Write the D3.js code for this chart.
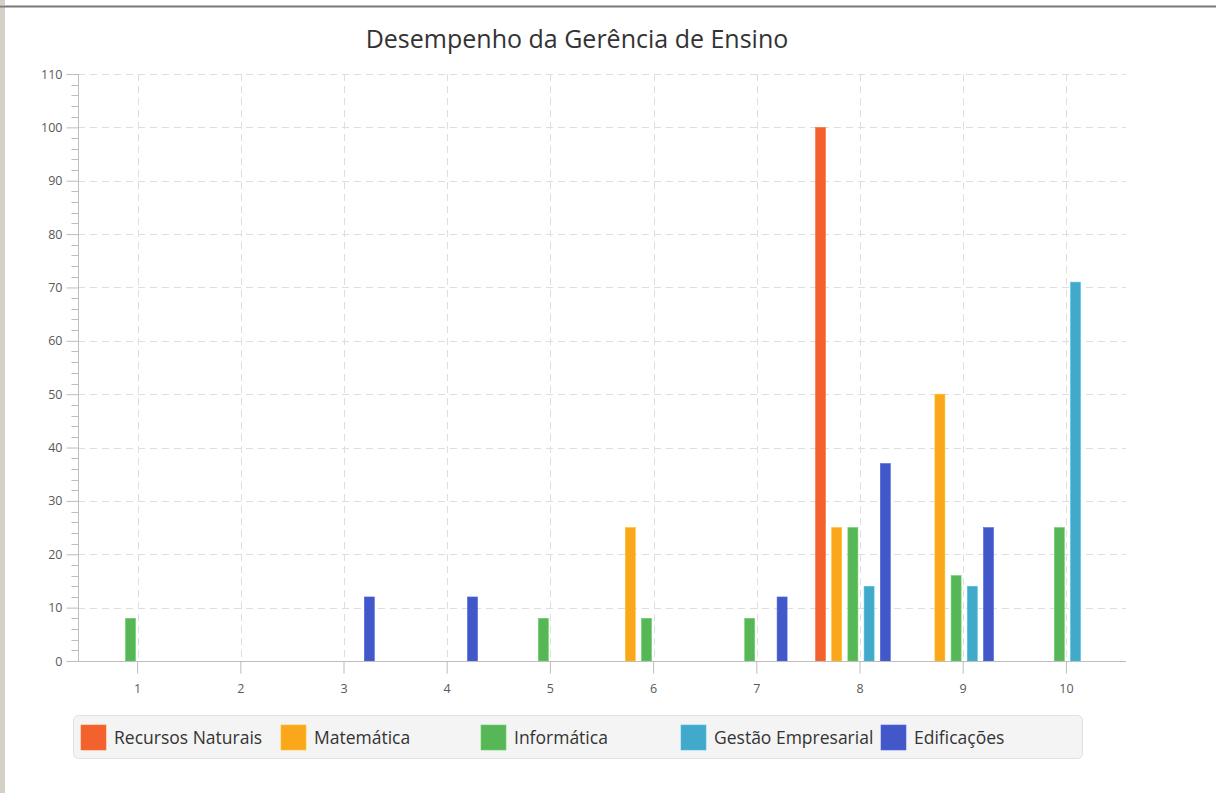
<!DOCTYPE html>
<html>
<head>
<meta charset="utf-8">
<script src="https://cdn.jsdelivr.net/npm/d3@7"></script>
<style>
  html, body { margin: 0; padding: 0; background: #fff; }
  svg { display: block; }
  text { font-family: "Open Sans", "Noto Sans", sans-serif; }
</style>
</head>
<body>
<svg id="chart" width="1216" height="793"></svg>
<script>
// chart data
const title = 'Desempenho da Gerência de Ensino';
const categories = ['1', '2', '3', '4', '5', '6', '7', '8', '9', '10'];
const seriesNames = ['Recursos Naturais', 'Matemática', 'Informática', 'Gestão Empresarial', 'Edificações'];
const seriesColors = ['#f3622d', '#fba71b', '#57b757', '#41a9c9', '#4258c9'];

// values per category (null = no bar)
const recursosNaturais = [null, null, null, null, null, null, null, 100, null, null];
const matematica = [null, null, null, null, null, 25, null, 25, 50, null];
const informatica = [8, null, null, null, 8, 8, 8, 25, 16, 25];
const gestaoEmpresarial = [null, null, null, null, null, null, null, 14, 14, 71];
const edificacoes = [null, null, 12, 12, null, null, 12, 37, 25, null];
const seriesValues = [recursosNaturais, matematica, informatica, gestaoEmpresarial, edificacoes];

const yTicks = [0, 10, 20, 30, 40, 50, 60, 70, 80, 90, 100, 110];

const svg = d3.select('#chart');

// window frame
svg.append('rect').attr('x', 0).attr('y', 0).attr('width', 5).attr('height', 793).attr('fill', '#d4d0c8');
svg.append('rect').attr('x', 0).attr('y', 5).attr('width', 1216).attr('height', 1).attr('fill', '#b8b8b8');
svg.append('rect').attr('x', 0).attr('y', 6).attr('width', 1216).attr('height', 1.5).attr('fill', '#7a7a7a');

// plot area
const axisLeft = 78, axisRight = 1126;
const plotTop = 74, plotBottom = 661;

const x = d3.scaleBand().domain(categories).range([86, 1118]).paddingInner(0).paddingOuter(0);
const y = d3.scaleLinear().domain([0, 110]).range([plotBottom, plotTop]);

const grid = svg.append('g').attr('class', 'grid')
  .attr('stroke', '#dedede').attr('stroke-width', 1).attr('stroke-dasharray', '7,5');

grid.selectAll('.hgrid')
  .data(yTicks.filter(d => d > 0))
  .enter().append('line')
  .attr('x1', axisLeft).attr('x2', axisRight)
  .attr('y1', d => Math.round(y(d)) + 0.5).attr('y2', d => Math.round(y(d)) + 0.5);

grid.selectAll('.vgrid')
  .data(categories)
  .enter().append('line')
  .attr('x1', d => Math.round(x(d) + x.bandwidth() / 2) + 0.5)
  .attr('x2', d => Math.round(x(d) + x.bandwidth() / 2) + 0.5)
  .attr('y1', plotTop).attr('y2', plotBottom);

// bars
const barW = 10, barStep = 16.2, barStart = -44.5;
const barData = [];
seriesValues.forEach((vals, s) => {
  vals.forEach((v, i) => {
    if (v !== null) barData.push({ s, cat: categories[i], v });
  });
});

svg.append('g').attr('class', 'bars')
  .selectAll('rect')
  .data(barData)
  .enter().append('rect')
  .attr('x', d => x(d.cat) + x.bandwidth() / 2 + barStart + d.s * barStep)
  .attr('y', d => y(d.v))
  .attr('width', barW)
  .attr('height', d => y(0) - y(d.v))
  .attr('fill', d => seriesColors[d.s])
  .attr('stroke', d => d3.color(seriesColors[d.s]).brighter(0.4))
  .attr('stroke-width', 0.6);

// y axis
const yAxis = d3.axisLeft(y).tickValues(yTicks).tickSize(12).tickPadding(4);
const yAxisG = svg.append('g').attr('transform', `translate(${axisLeft + 0.5},0)`).call(yAxis);
const minorTicks = d3.range(0, 110, 2).filter(d => d % 10 !== 0);
yAxisG.selectAll('.minor')
  .data(minorTicks)
  .enter().append('line')
  .attr('class', 'minor')
  .attr('x1', -7).attr('x2', 0)
  .attr('y1', d => Math.round(y(d)) + 0.5).attr('y2', d => Math.round(y(d)) + 0.5);

// x axis
const xAxis = d3.axisBottom(x).tickSize(12).tickPadding(11);
const xAxisG = svg.append('g').attr('transform', `translate(0,${plotBottom + 0.5})`).call(xAxis);

[yAxisG, xAxisG].forEach(g => {
  g.select('.domain').remove();
  g.selectAll('line').attr('stroke', '#bdbdbd');
  g.selectAll('.tick text')
    .attr('fill', '#595959')
    .style('font-size', '12.5px')
    .style('font-family', '"Open Sans", "Noto Sans", sans-serif');
});

// axis lines
svg.append('line')
  .attr('x1', axisLeft + 0.5).attr('x2', axisLeft + 0.5)
  .attr('y1', plotTop).attr('y2', plotBottom + 1)
  .attr('stroke', '#bdbdbd');
svg.append('line')
  .attr('x1', axisLeft).attr('x2', axisRight)
  .attr('y1', plotBottom + 0.5).attr('y2', plotBottom + 0.5)
  .attr('stroke', '#bdbdbd');

// title
svg.append('text')
  .attr('x', 577).attr('y', 48)
  .attr('text-anchor', 'middle')
  .attr('fill', '#333')
  .style('font-size', '25px')
  .text(title);

// legend
svg.append('rect')
  .attr('x', 73.5).attr('y', 715.5)
  .attr('width', 1009).attr('height', 43)
  .attr('rx', 5)
  .attr('fill', '#f4f4f4')
  .attr('stroke', '#e0e0e0');

const legendX0 = 81, legendStep = 200;
const legendItems = svg.append('g').attr('class', 'legend')
  .selectAll('g')
  .data(seriesNames)
  .enter().append('g')
  .attr('transform', (d, i) => `translate(${legendX0 + i * legendStep},725)`);

legendItems.append('rect')
  .attr('width', 25).attr('height', 25)
  .attr('fill', (d, i) => seriesColors[i])
  .attr('stroke', (d, i) => d3.color(seriesColors[i]).brighter(0.4))
  .attr('stroke-width', 0.6);

legendItems.append('text')
  .attr('x', 33).attr('y', 19)
  .attr('fill', '#333')
  .style('font-size', '17.5px')
  .text(d => d);
</script>
</body>
</html>
